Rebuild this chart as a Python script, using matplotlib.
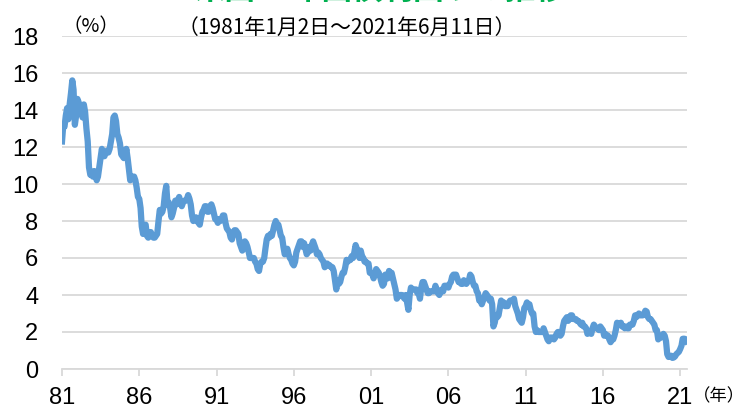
'''
米国10年国債利回りの推移 (1981-2021)
'''
import numpy as np
import pandas as pd
import matplotlib
matplotlib.use('Agg')
from matplotlib import pyplot as plt
import matplotlib.dates as mdates

# 月次の利回り (%)、図から読み取り
y1980s = [
    12.3, 13.2, 13.1, 13.7, 14.1, 13.5, 14.3, 14.9, 15.6, 15.1, 13.2, 13.7,  # 81
    14.6, 14.4, 13.9, 13.9, 13.6, 14.3, 13.9, 13.0, 12.3, 10.9, 10.5, 10.5,  # 82
    10.4, 10.7, 10.5, 10.2, 10.4, 10.9, 11.4, 11.9, 11.6, 11.5, 11.7, 11.8,  # 83
    11.7, 11.9, 12.3, 12.7, 13.6, 13.7, 13.4, 12.7, 12.5, 12.2, 11.6, 11.5,  # 84
    11.4, 11.5, 11.9, 11.4, 10.8, 10.2, 10.3, 10.4, 10.4, 10.2, 9.8, 9.3,    # 85
    9.2, 8.7, 7.7, 7.3, 7.7, 7.8, 7.2, 7.1, 7.4, 7.4, 7.2, 7.1,              # 86
    7.1, 7.2, 7.3, 8.0, 8.6, 8.4, 8.5, 8.8, 9.5, 9.9, 8.9, 9.0,              # 87
    8.7, 8.2, 8.4, 8.7, 9.1, 8.9, 9.1, 9.3, 9.0, 8.8, 9.0, 9.1,              # 88
    9.1, 9.2, 9.4, 9.2, 8.9, 8.3, 8.0, 8.1, 8.2, 8.0, 7.9, 7.8,              # 89
]
y1990s = [
    8.2, 8.5, 8.6, 8.8, 8.8, 8.5, 8.5, 8.8, 8.9, 8.7, 8.4, 8.1,              # 90
    8.1, 7.9, 8.1, 8.0, 8.1, 8.3, 8.3, 7.9, 7.6, 7.5, 7.4, 7.1,              # 91
    7.0, 7.3, 7.5, 7.5, 7.4, 7.3, 6.8, 6.6, 6.4, 6.6, 6.9, 6.8,              # 92
    6.6, 6.3, 6.0, 6.0, 6.0, 6.0, 5.8, 5.7, 5.4, 5.3, 5.7, 5.8,              # 93
    5.8, 6.0, 6.5, 7.0, 7.2, 7.1, 7.3, 7.2, 7.5, 7.8, 8.0, 7.8,              # 94
    7.8, 7.5, 7.2, 7.1, 6.6, 6.2, 6.3, 6.5, 6.2, 6.0, 5.9, 5.7,              # 95
    5.6, 5.8, 6.3, 6.5, 6.7, 6.9, 6.9, 6.6, 6.8, 6.5, 6.2, 6.3,              # 96
    6.6, 6.4, 6.7, 6.9, 6.7, 6.5, 6.2, 6.3, 6.2, 6.0, 5.9, 5.8,              # 97
    5.5, 5.6, 5.7, 5.6, 5.6, 5.5, 5.5, 5.3, 4.8, 4.3, 4.8, 4.6,              # 98
    4.7, 5.0, 5.2, 5.2, 5.5, 5.9, 5.8, 5.9, 5.9, 6.1, 6.0, 6.3,              # 99
]
y2000s = [
    6.7, 6.5, 6.3, 6.0, 6.4, 6.1, 6.0, 5.8, 5.8, 5.7, 5.7, 5.2,              # 00
    5.2, 5.1, 4.9, 5.1, 5.4, 5.3, 5.2, 5.0, 4.7, 4.5, 4.6, 5.1,              # 01
    5.0, 4.9, 5.3, 5.2, 5.2, 4.9, 4.6, 4.3, 3.8, 3.9, 4.0, 4.0,              # 02
    4.0, 3.9, 3.8, 4.0, 3.6, 3.2, 4.0, 4.4, 4.3, 4.3, 4.3, 4.3,              # 03
    4.1, 4.1, 3.8, 4.4, 4.7, 4.7, 4.5, 4.3, 4.1, 4.1, 4.2, 4.2,              # 04
    4.2, 4.2, 4.5, 4.3, 4.1, 4.0, 4.2, 4.3, 4.2, 4.5, 4.5, 4.5,              # 05
    4.4, 4.6, 4.7, 5.0, 5.1, 5.1, 5.1, 4.9, 4.7, 4.7, 4.6, 4.6,              # 06
    4.8, 4.7, 4.6, 4.7, 4.8, 5.1, 5.0, 4.7, 4.5, 4.5, 4.2, 4.1,              # 07
    3.7, 3.7, 3.5, 3.7, 3.9, 4.1, 4.0, 3.9, 3.7, 3.8, 3.5, 2.3,              # 08
    2.5, 2.9, 2.8, 2.9, 3.3, 3.7, 3.6, 3.6, 3.4, 3.4, 3.4, 3.6,              # 09
]
y2010s = [
    3.7, 3.7, 3.7, 3.8, 3.4, 3.2, 3.0, 2.7, 2.6, 2.5, 2.8, 3.3,              # 10
    3.4, 3.6, 3.4, 3.5, 3.2, 3.0, 3.0, 2.3, 2.0, 2.1, 2.0, 2.0,              # 11
    2.0, 2.0, 2.2, 2.0, 1.8, 1.6, 1.5, 1.7, 1.7, 1.7, 1.6, 1.7,              # 12
    1.9, 2.0, 2.0, 1.8, 1.9, 2.3, 2.6, 2.7, 2.8, 2.6, 2.7, 2.9,              # 13
    2.9, 2.7, 2.7, 2.7, 2.6, 2.6, 2.5, 2.4, 2.5, 2.3, 2.3, 2.2,              # 14
    1.9, 2.0, 2.0, 1.9, 2.2, 2.4, 2.3, 2.2, 2.2, 2.1, 2.3, 2.2,              # 15
    2.1, 1.8, 1.9, 1.8, 1.8, 1.6, 1.45, 1.6, 1.6, 1.8, 2.1, 2.5,             # 16
    2.4, 2.4, 2.5, 2.3, 2.3, 2.2, 2.3, 2.2, 2.2, 2.4, 2.4, 2.4,              # 17
    2.6, 2.9, 2.8, 2.9, 3.0, 2.9, 2.9, 2.9, 3.0, 3.15, 3.1, 2.8,             # 18
    2.7, 2.7, 2.6, 2.5, 2.4, 2.1, 2.1, 1.6, 1.7, 1.7, 1.8, 1.9,              # 19
]
y2020s = [
    1.8, 1.5, 0.8, 0.65, 0.67, 0.72, 0.6, 0.62, 0.68, 0.8, 0.87, 0.93,      # 20
    1.08, 1.26, 1.63, 1.64, 1.62, 1.5,                                       # 21
]

yields = y1980s + y1990s + y2000s + y2010s + y2020s
dates = pd.date_range('1981-01-01', periods=len(yields), freq='MS')

tick_years = [1981, 1986, 1991, 1996, 2001, 2006, 2011, 2016, 2021]
yticks = [0, 2, 4, 6, 8, 10, 12, 14, 16, 18]

jp = ['Noto Sans CJK JP', 'DejaVu Sans']
num = 'Liberation Sans'

fig = plt.figure(figsize=(7.4, 4.12), dpi=100)
ax = fig.add_axes([62 / 740, 43 / 412, 625 / 740, 333 / 412])

ax.plot(dates, yields, color='#5b9bd5', lw=4.5, solid_joinstyle='round')

ax.set_xlim(pd.Timestamp('1981-01-01'), pd.Timestamp('2021-06-11'))
ax.set_ylim(0, 18)
ax.set_yticks(yticks)
ax.set_xticks([pd.Timestamp(f'{y}-01-01') for y in tick_years])
ax.xaxis.set_major_formatter(mdates.DateFormatter('%y'))

ax.grid(axis='y', color='#d9d9d9', lw=1.3)
ax.set_axisbelow(True)
for s in ['top', 'right', 'left']:
    ax.spines[s].set_visible(False)
ax.spines['bottom'].set_color('#d9d9d9')
ax.spines['bottom'].set_linewidth(1.3)
ax.tick_params(axis='y', length=0, pad=17, labelsize=17)
ax.tick_params(axis='x', length=5, width=1.3, color='#d9d9d9', pad=8, labelsize=17)
for lab in ax.get_xticklabels() + ax.get_yticklabels():
    lab.set_fontfamily(num)

fig.text(63 / 740, 1 - 27 / 412, '（%）', family=jp, fontsize=14, va='center', ha='left')
fig.text(178 / 740, 1 - 28 / 412, '（1981年1月2日～2021年6月11日）', family=jp,
         fontsize=15, va='center', ha='left')
fig.text(693 / 740, 1 - 396 / 412, '（年）', family=jp, fontsize=12.5, va='center', ha='left')
# 上端で切れたタイトル
fig.text(380 / 740, 1 + 1 / 412, '米国10年国債利回りの推移', family=jp, fontsize=22,
         color='#00b050', fontweight='bold', va='baseline', ha='center')

plt.savefig('out.png', dpi=100)
